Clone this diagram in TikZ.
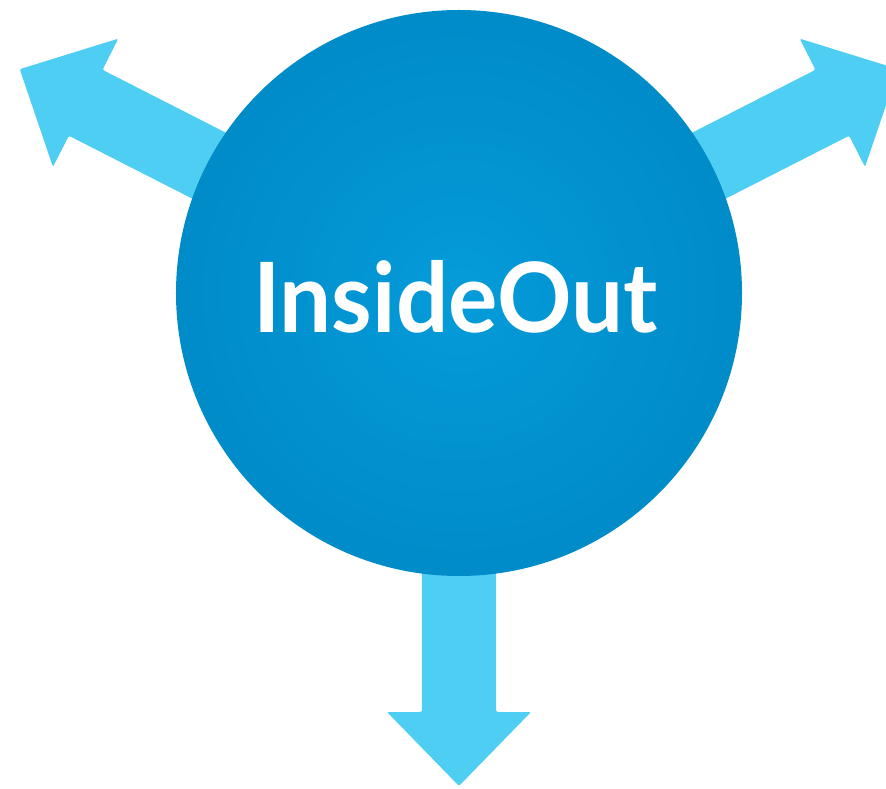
\documentclass[tikz,border=0pt]{standalone}
\usepackage{fontspec}
\usepackage{tikz}
\usetikzlibrary{positioning, calc}
\setmainfont{Lato}
\definecolor{ArrowCyan}{RGB}{77, 206, 242}
\definecolor{CoreBlue}{RGB}{0, 139, 201}
\definecolor{CoreLight}{RGB}{5, 155, 217}

\begin{document}
\begin{tikzpicture}[x=1pt, y=1pt]
    % Frame of the picture
    \useasboundingbox (-459,-496) rectangle (427,293);
    \clip (-459,-496) rectangle (427,293);

    % Three arrows leaving the centre
    \foreach \ang in {153, 27, -90} {
        \fill[ArrowCyan, rotate=\ang, rounded corners=2pt]
            (0,-37) -- (419,-37) -- (419,-72) -- (493,0) -- (419,72) -- (419,37) -- (0,37) -- cycle;
    }

    % Central disc
    \shade[inner color=CoreLight, outer color=CoreBlue] (0,0) circle (283);

    % Title
    \node[anchor=base, text=white, inner sep=0pt, xscale=0.952, transform shape,
          font=\fontsize{97}{100}\selectfont\bfseries] (title) at (-3.5,-40) {InsideOut};
\end{tikzpicture}
\end{document}
